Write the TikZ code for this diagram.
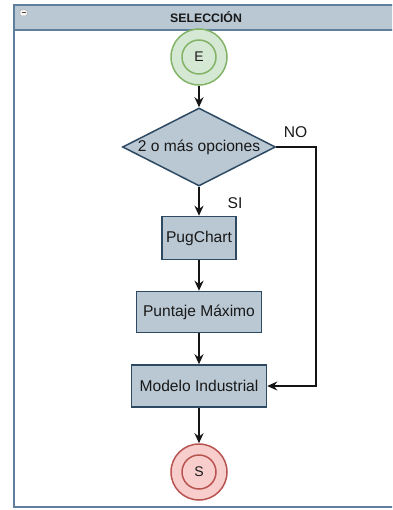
\documentclass[tikz,border=0pt]{standalone}
\usepackage{fontspec}
\setmainfont{Liberation Sans}
\usetikzlibrary{shapes.geometric,arrows.meta}
\definecolor{boxfill}{HTML}{BAC8D3}
\definecolor{boxline}{HTML}{2E4A63}
\definecolor{frameline}{HTML}{5F7F9C}
\definecolor{startfill}{HTML}{D5E8D4}
\definecolor{startline}{HTML}{82B366}
\definecolor{endfill}{HTML}{F8CECC}
\definecolor{endline}{HTML}{B85450}
\definecolor{wire}{HTML}{151515}
\tikzset{
  every node/.style={font=\fontsize{15.6}{17}\selectfont, text=black!90},
  stepbox/.style={draw=boxline, fill=boxfill, line width=1.5pt, inner sep=0pt, rectangle},
  decision/.style={draw=boxline, fill=boxfill, line width=1.5pt, shape=diamond, inner sep=0pt, aspect=1.96, minimum width=153pt, minimum height=78pt},
  startnode/.style={draw=startline, fill=startfill, line width=1.5pt, circle, inner sep=0pt, minimum size=56pt},
  endnode/.style={draw=endline, fill=endfill, line width=1.5pt, circle, inner sep=0pt, minimum size=56pt},
  flow/.style={draw=wire, line width=1.6pt, -{Stealth[length=10pt,width=9pt]}},
  tag/.style={inner sep=0pt}
}
\begin{document}
\begin{tikzpicture}[x=1pt,y=-1pt]
  \useasboundingbox (0,0) rectangle (392,510);
  \begin{scope}
    \clip (0,0) rectangle (392,510);
    % swimlane frame with its header band
    \path[fill=white] (14,5) rectangle (400,507);
    \draw[frameline, line width=2.2pt, fill=boxfill] (14,5) rectangle (400,30);
    \draw[frameline, line width=2.2pt] (14,30) -- (14,507) -- (400,507);
  \end{scope}
  % collapse button
  \draw[gray!70, fill=white!92!gray, line width=0.5pt, rounded corners=1pt] (20,10) rectangle (27,16);
  \draw[black!70, line width=1pt] (21.5,13) -- (25.5,13);
  \node[font=\bfseries\fontsize{12.3}{14}\selectfont] (title) at (206,17.5) {SELECCIÓN};

  % start and end events
  \node[startnode] (E) at (199,57) {};
  \draw[startline, line width=1.5pt] (E.center) circle[radius=17pt];
  \node[font=\fontsize{14}{15}\selectfont] (Etxt) at (E.center) {E};

  \node[decision] (D) at (199,147) {2 o más opciones};
  \node[stepbox, minimum width=74pt, minimum height=43pt] (P) at (199,238) {PugChart};
  \node[stepbox, minimum width=125pt, minimum height=41pt] (M) at (199,312) {Puntaje Máximo};
  \node[stepbox, minimum width=135pt, minimum height=42pt] (I) at (199,386) {Modelo Industrial};

  \node[endnode] (S) at (199,472) {};
  \draw[endline, line width=1.5pt] (S.center) circle[radius=17pt];
  \node[font=\fontsize{14}{15}\selectfont] (Stxt) at (S.center) {S};

  % connectors
  \coordinate (noTop) at (316,147);
  \coordinate (noBot) at (316,386);
  \draw[flow] (E) -- (D);
  \draw[flow] (D) -- (P);
  \draw[flow] (P) -- (M);
  \draw[flow] (M) -- (I);
  \draw[flow] (I) -- (S);
  \draw[flow] (D.east) -- (noTop) -- (noBot) -- (I.east);

  \node[tag] (no) at (295.5,132) {NO};
  \node[tag] (si) at (235,203) {SI};
\end{tikzpicture}
\end{document}
